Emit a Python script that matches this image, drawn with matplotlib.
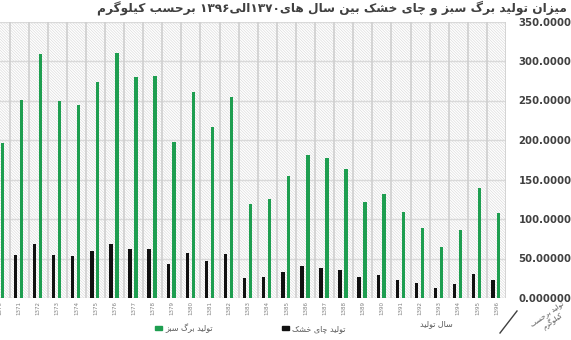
import re
import matplotlib
matplotlib.use('Agg')
import matplotlib.pyplot as plt
from matplotlib.patches import Rectangle
from matplotlib.lines import Line2D

# production of green leaf and dried tea, 1370-1396
years = list(range(1370, 1397))
green_leaf = [196, 251, 309, 250, 244, 273, 310, 280, 281, 197, 261, 216, 254,
              119, 125, 154, 181, 177, 163, 121, 132, 109, 89, 64, 86, 139, 108]
dry_tea = [52, 54, 68, 54, 53, 60, 68, 62, 62, 43, 57, 47, 56,
           25, 27, 33, 40, 38, 35, 26, 29, 23, 19, 13, 18, 30, 23]
y_ticks = [0, 50, 100, 150, 200, 250, 300, 350]
y_labels = ['0.000000', '50.00000', '100.0000', '150.0000',
            '200.0000', '250.0000', '300.0000', '350.0000']

title = 'میزان تولید برگ سبز و چای خشک بین سال های۱۳۷۰الی۱۳۹۶ برحسب کیلوگرم'
label_green = 'تولید برگ سبز'
label_black = 'تولید چای خشک'
x_title = 'سال تولید'
y_title = 'تولید برحسب\nکیلوگرم'

# matplotlib has no Arabic shaping, so pick presentation forms by hand
FORMS = {
    'ا': ('\uFE8D', '\uFE8E', None, None),
    'د': ('\uFEA9', '\uFEAA', None, None),
    'ر': ('\uFEAD', '\uFEAE', None, None),
    'ز': ('\uFEAF', '\uFEB0', None, None),
    'و': ('\uFEED', '\uFEEE', None, None),
    'ب': ('\uFE8F', '\uFE90', '\uFE91', '\uFE92'),
    'ت': ('\uFE95', '\uFE96', '\uFE97', '\uFE98'),
    'چ': ('\uFB7A', '\uFB7B', '\uFB7C', '\uFB7D'),
    'ح': ('\uFEA1', '\uFEA2', '\uFEA3', '\uFEA4'),
    'خ': ('\uFEA5', '\uFEA6', '\uFEA7', '\uFEA8'),
    'س': ('\uFEB1', '\uFEB2', '\uFEB3', '\uFEB4'),
    'ش': ('\uFEB5', '\uFEB6', '\uFEB7', '\uFEB8'),
    'ک': ('\uFB8E', '\uFB8F', '\uFB90', '\uFB91'),
    'گ': ('\uFB92', '\uFB93', '\uFB94', '\uFB95'),
    'ل': ('\uFEDD', '\uFEDE', '\uFEDF', '\uFEE0'),
    'م': ('\uFEE1', '\uFEE2', '\uFEE3', '\uFEE4'),
    'ن': ('\uFEE5', '\uFEE6', '\uFEE7', '\uFEE8'),
    'ه': ('\uFEE9', '\uFEEA', '\uFEEB', '\uFEEC'),
    'ی': ('\uFBFC', '\uFBFD', '\uFBFE', '\uFBFF'),
}


def fa(text):
    lines = []
    for line in text.split('\n'):
        out = []
        for i, ch in enumerate(line):
            if ch not in FORMS:
                out.append(ch)
                continue
            prev = line[i - 1] if i > 0 else ''
            nxt = line[i + 1] if i + 1 < len(line) else ''
            iso, fin, ini, med = FORMS[ch]
            jp = prev in FORMS and FORMS[prev][2] is not None
            jn = ini is not None and nxt in FORMS
            if jp and jn:
                out.append(med)
            elif jp:
                out.append(fin)
            elif jn:
                out.append(ini)
            else:
                out.append(iso)
        s = ''.join(out)[::-1]
        s = re.sub(r'[0-9۰-۹]+', lambda m: m.group()[::-1], s)
        lines.append(s)
    return '\n'.join(lines)


plt.rcParams['font.family'] = ['DejaVu Sans']
plt.rcParams['hatch.linewidth'] = 0.4

fig = plt.figure(figsize=(5.71, 3.4), dpi=100)
ax = fig.add_axes([0, 42 / 340, 506 / 571, 276.5 / 340])

# hatched plot background
ax.add_patch(Rectangle((0, 0), 1, 1, transform=ax.transAxes, facecolor='white',
                       edgecolor='#d6d6d6', hatch='\\' * 12, lw=0, zorder=0))

x = list(range(len(years)))
ax.bar([i - 0.19 for i in x], dry_tea, width=0.18, color='#111111', zorder=3)
ax.bar([i + 0.12 for i in x], green_leaf, width=0.18, color='#1e9e50', zorder=3)

for yv in y_ticks:
    ax.axhline(yv, color='#d9d9d9', lw=1, zorder=1)
for i in x:
    ax.axvline(i + 0.5, color='#cfcfcf', lw=1.2, zorder=1)

ax.set_xlim(0.2, 26.5)
ax.set_ylim(0, 350)
for s in ax.spines.values():
    s.set_visible(False)

ax.set_xticks(x)
ax.set_xticklabels([str(y) for y in years], rotation=90, fontsize=4, color='#808080')
ax.tick_params(axis='x', length=0, pad=2)

ax.yaxis.tick_right()
ax.set_yticks(y_ticks)
ax.set_yticklabels(y_labels, fontsize=7.3, fontweight='bold', color='#404040')
ax.tick_params(axis='y', length=0, pad=9)

fig.text(0.993, 1 - 8 / 340, fa(title), ha='right', va='center',
         fontsize=8.7, fontweight='bold', color='#404040')

handles = [Rectangle((0, 0), 1, 1, color='#1e9e50'), Rectangle((0, 0), 1, 1, color='#111111')]
fig.legend(handles, [fa(label_green), fa(label_black)], ncol=2, frameon=False,
           loc='center left', bbox_to_anchor=(148 / 571, 1 - 328 / 340),
           fontsize=5.8, labelcolor='#595959', handlelength=0.9, handleheight=0.5,
           handletextpad=0.4, columnspacing=8.5)

fig.text(436 / 571, 1 - 324 / 340, fa(x_title), ha='center', va='center',
         fontsize=5.8, color='#595959')
fig.add_artist(Line2D([500 / 571, 517 / 571], [1 - 333 / 340, 1 - 311 / 340],
                      color='#404040', lw=1))
fig.text(550 / 571, 1 - 318 / 340, fa(y_title), ha='center', va='center',
         fontsize=5, color='#595959', rotation=35, linespacing=1.1)

fig.savefig('out.png', dpi=100)
